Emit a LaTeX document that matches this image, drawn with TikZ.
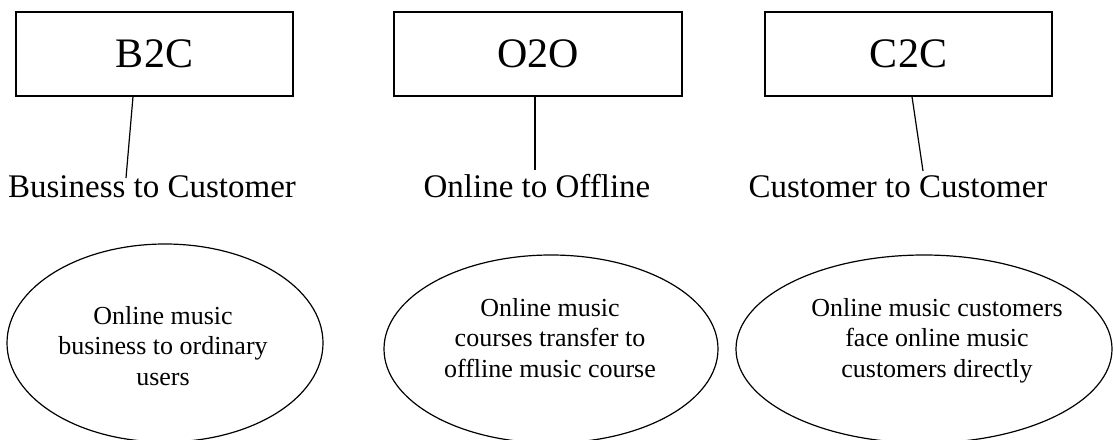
\documentclass[tikz,border=0pt]{standalone}
\usepackage{fontspec}
\setmainfont{Liberation Serif}
\usetikzlibrary{shapes.geometric}
\begin{document}
\begin{tikzpicture}[x=1pt,y=-1pt,
  box/.style={draw, line width=1.3pt, rectangle, inner sep=0pt, font=\fontsize{42}{48}\selectfont},
  lbl/.style={anchor=base, inner sep=0pt, font=\fontsize{33}{38}\selectfont},
  oval/.style={draw, line width=1.2pt, ellipse, inner sep=0pt},
  otext/.style={anchor=base, inner sep=0pt, align=center, font=\fontsize{26}{30.5}\selectfont},
  conn/.style={line width=1.2pt}]
\useasboundingbox (0,0) rectangle (1113,439);
\clip (0,0) rectangle (1113,439);
% boxes
\node[box, minimum width=277pt, minimum height=84pt] (b2c) at (154.5,54) {B2C};
\node[box, minimum width=288pt, minimum height=84pt] (o2o) at (538,54) {O2O};
\node[box, minimum width=287pt, minimum height=84pt] (c2c) at (908.5,54) {C2C};
% labels
\node[lbl] (l1) at (152,197) {Business to Customer};
\node[lbl] (l2) at (537,197) {Online to Offline};
\node[lbl] (l3) at (898,197) {Customer to Customer};
% connector end points
\coordinate (e1) at (126,178);
\coordinate (e2) at (535,170);
\coordinate (e3) at (923,171);
\draw[conn] ([xshift=-21.5pt]b2c.south) -- (e1);
\draw[conn] ([xshift=-3pt]o2o.south) -- (e2);
\draw[conn] ([xshift=3.5pt]c2c.south) -- (e3);
% ellipses
\node[oval, minimum width=316pt, minimum height=198pt] (el1) at (165,343) {};
\node[oval, minimum width=334pt, minimum height=188pt] (el2) at (551,349) {};
\node[oval, minimum width=376pt, minimum height=188pt] (el3) at (924,349) {};
% ellipse texts
\node[otext] (t1) at (163,385) {Online music\\business to ordinary\\users};
\node[otext] (t2) at (550,377) {Online music\\courses transfer to\\offline music course};
\node[otext] (t3) at (937,377) {Online music customers\\face online music\\customers directly};
\end{tikzpicture}
\end{document}
